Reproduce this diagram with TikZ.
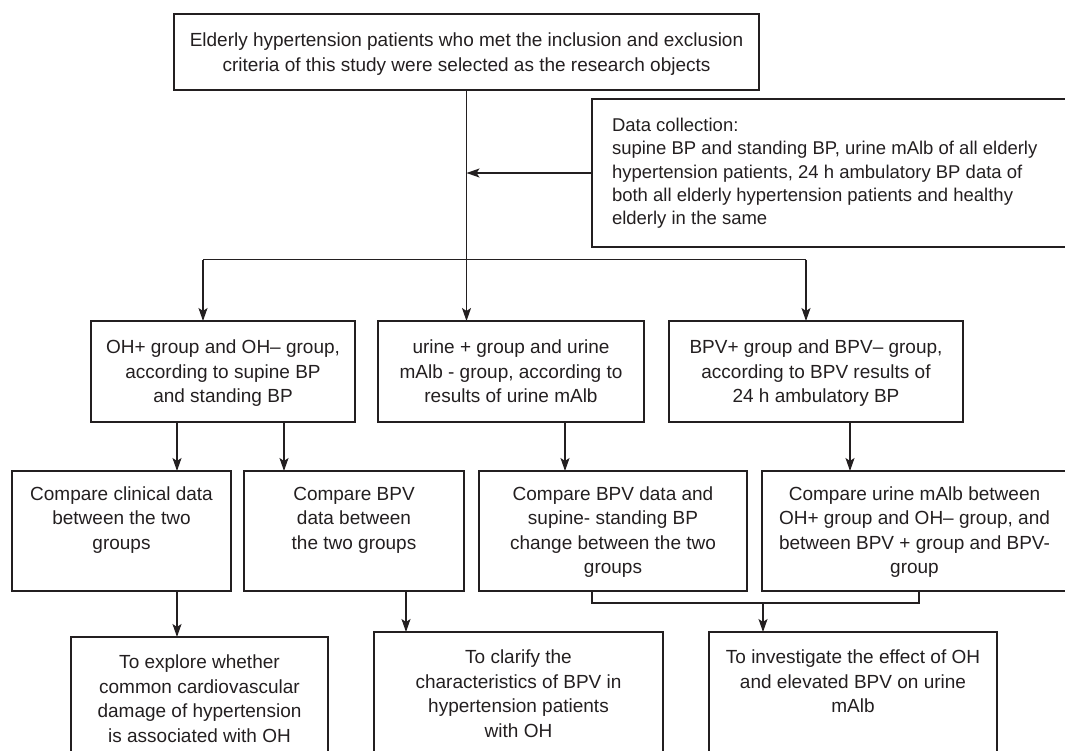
\documentclass[tikz,border=0pt]{standalone}
\usepackage{fontspec}
\setmainfont{Liberation Sans}
\usetikzlibrary{arrows.meta}
\definecolor{ink}{RGB}{35,31,32}
% width, height, top pad, text
\newcommand\bxt[4]{\parbox[c][#2pt][t]{#1pt}{\vspace*{#3pt}\centering\strut #4}}
\begin{document}
\begin{tikzpicture}[x=1pt,y=-1pt,
  every node/.style={font=\fontsize{19}{24.5}\selectfont, text=ink},
  box/.style={draw=ink, line width=1.2pt, inner sep=0pt, outer sep=0pt, anchor=north west},
  ln/.style={draw=ink, line width=1.2pt},
  arr/.style={draw=ink, line width=1.2pt, -{Stealth[length=13pt,width=9pt,inset=3pt]}}]
\useasboundingbox (0,0) rectangle (1065,750);
\clip (0,0) rectangle (1065,750);

% boxes
\node[box] (T) at (174,14) {\bxt{585}{76}{15.6}{Elderly hypertension patients who met the inclusion and exclusion\\criteria of this study were selected as the research objects}};
\node[box] (D) at (592,99) {\parbox[c][148pt][t]{480pt}{\fontsize{18.5}{23.3}\selectfont\raggedright\leftskip=20pt\vspace*{16.3pt}\strut Data collection:\\supine BP and standing BP, urine mAlb of all elderly\\hypertension patients, 24 h ambulatory BP data of\\both all elderly hypertension patients and healthy\\elderly in the same}};

\node[box] (M1) at (91,321) {\bxt{264}{101}{15.6}{OH+ group and OH– group,\\according to supine BP\\and standing BP}};
\node[box] (M2) at (378,321) {\bxt{266}{101}{15.6}{urine + group and urine\\mAlb - group, according to\\results of urine mAlb}};
\node[box] (M3) at (669,321) {\bxt{294}{101}{15.6}{BPV+ group and BPV– group,\\according to BPV results of\\24 h ambulatory BP}};

\node[box] (R1) at (12,471) {\bxt{219}{120}{12}{Compare clinical data\\between the two\\groups}};
\node[box] (R2) at (244,471) {\bxt{220}{120}{12}{Compare BPV\\data between\\the two groups}};
\node[box] (R3) at (479,471) {\bxt{268}{120}{12}{Compare BPV data and\\supine- standing BP\\change between the two\\groups}};
\node[box] (R4) at (762,471) {\bxt{305}{120}{12}{Compare urine mAlb between\\OH+ group and OH– group, and\\between BPV + group and BPV-\\group}};

\node[box] (B1) at (71,637) {\bxt{257}{200}{14.6}{To explore whether\\common cardiovascular\\damage of hypertension\\is associated with OH}};
\node[box] (B2) at (374,632) {\bxt{289}{200}{14.6}{To clarify the\\characteristics of BPV in\\hypertension patients\\with OH}};
\node[box] (B3) at (709,632) {\bxt{288}{200}{14.6}{To investigate the effect of OH\\and elevated BPV on urine\\mAlb}};

% helper coordinates
\coordinate (bl) at (203,259.5);
\coordinate (brr) at (806,259.5);
\coordinate (x177) at (177,0);
\coordinate (x284) at (284,0);
\coordinate (x565) at (565,0);
\coordinate (x850) at (850,0);
\coordinate (x406) at (406,0);
\coordinate (jl) at (592,603);
\coordinate (jr) at (919,603);
\coordinate (jc) at (763,603);

% connectors
\draw[arr] (T.south) -- (T.south |- M2.north);
\draw[arr] (D.west) -- (D.west -| T.south);
\draw[ln] (bl) -- (brr);
\draw[arr] (bl) -- (M1.north -| bl);
\draw[arr] (brr) -- (M3.north -| brr);
\draw[arr] (M1.south -| x177) -- (R1.north -| x177);
\draw[arr] (M1.south -| x284) -- (R2.north -| x284);
\draw[arr] (M2.south -| x565) -- (R3.north -| x565);
\draw[arr] (M3.south -| x850) -- (R4.north -| x850);
\draw[arr] (R1.south -| x177) -- (B1.north -| x177);
\draw[arr] (R2.south -| x406) -- (B2.north -| x406);
\draw[ln] (R3.south -| jl) -- (jl) -- (jr) -- (R4.south -| jr);
\draw[arr] (jc) -- (B3.north -| jc);
\end{tikzpicture}
\end{document}
